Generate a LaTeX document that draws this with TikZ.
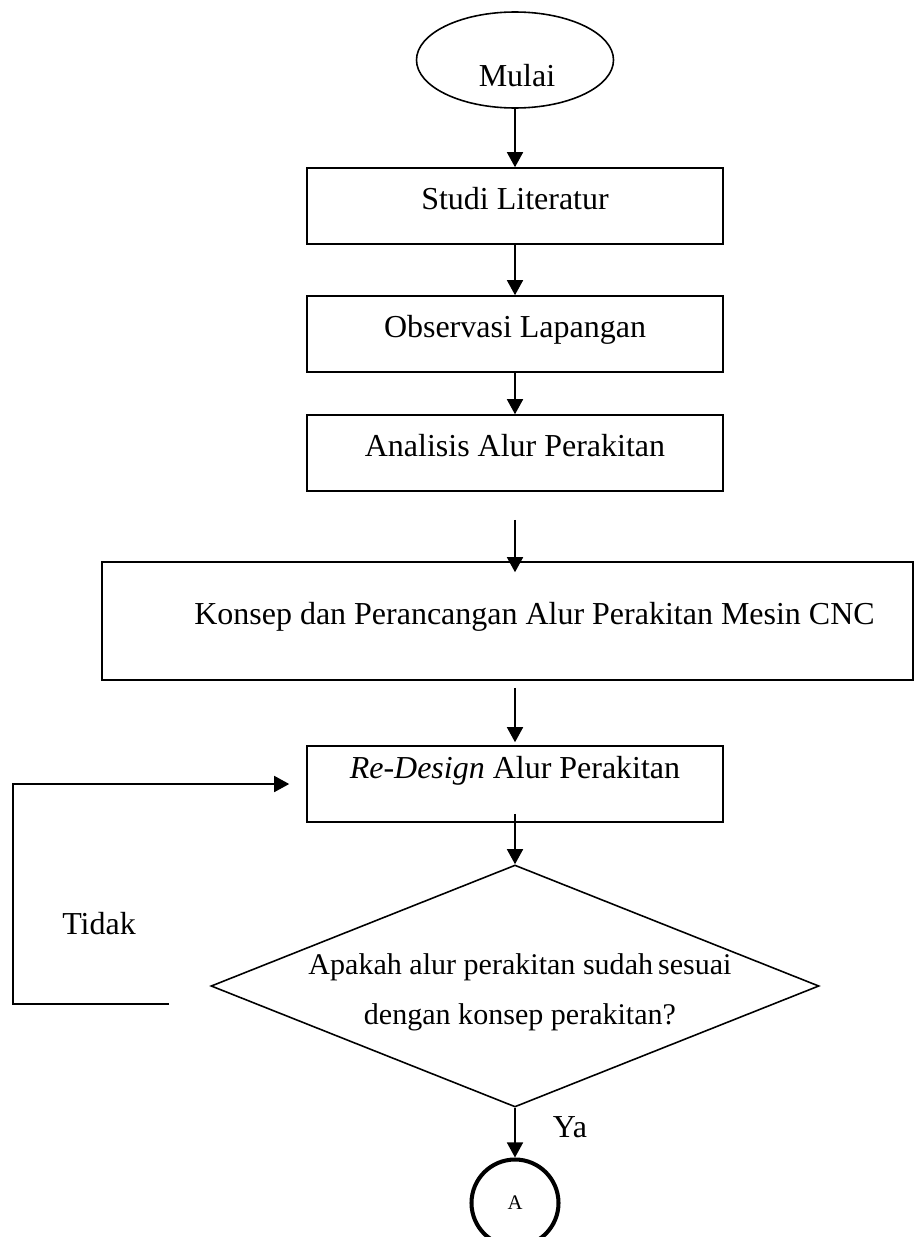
\documentclass[tikz,border=0pt]{standalone}
\usepackage{fontspec}
\setmainfont{Liberation Serif}
\usetikzlibrary{arrows.meta,positioning,calc,shapes.geometric}
\begin{document}
\begin{tikzpicture}[>={Triangle[length=0.30cm,width=0.32cm]},line width=0.9pt,
 font=\fontsize{18.2}{22}\selectfont,x=1.000cm,y=1.000cm,
 proc/.style={draw,rectangle,minimum width=8.320cm,minimum height=1.520cm,inner sep=0pt,text height=0.45cm,text depth=0.30cm},
 term/.style={draw,ellipse,minimum width=3.940cm,minimum height=1.920cm,inner sep=0pt},
 dec/.style={draw,diamond,minimum width=12.160cm,minimum height=4.840cm,inner sep=0pt},
 conn/.style={draw,circle,line width=2.3pt,minimum size=1.740cm,inner sep=0pt,font=\fontsize{11.8}{14}\selectfont},
 lab/.style={inner sep=1pt}]
\useasboundingbox (0,0) rectangle (18.280,-24.740);
\node[term] (mulai) at (10.300,-1.200) {};
\node[lab] (mulaitxt) at (10.340,-1.520) {Mulai};
\node[proc] (studi) at (10.300,-4.120) {Studi Literatur};
\node[proc] (observasi) at (10.300,-6.680) {Observasi Lapangan};
\node[proc] (analisis) at (10.300,-9.060) {Analisis Alur Perakitan};
\node[proc,minimum width=16.220cm,minimum height=2.360cm] (konsep) at (10.150,-12.420) {\hspace*{1.08cm}Konsep dan Perancangan Alur Perakitan Mesin CNC};
\node[proc,text depth=0.67cm] (redesign) at (10.300,-15.680) {\textit{Re-Design} Alur Perakitan};
\node[dec] (cek) at (10.300,-19.720) {};
\node[lab,align=center,font=\fontsize{17.1}{28.5}\selectfont] (cektxt) at (10.400,-19.840) {Apakah alur perakitan sudah\,sesuai\\dengan konsep perakitan?};
\node[conn] (a) at (10.300,-24.060) {A};
\node[lab] (tidak) at (1.980,-18.470) {Tidak};
\node[lab] (ya) at (11.400,-22.540) {Ya};
\coordinate (tdk1) at (3.380,-20.080);
\coordinate (tdk2) at (0.260,-20.080);
\draw[->] (mulai) -- (studi);
\draw[->] (studi) -- (observasi);
\draw[->] (observasi) -- (analisis);
\draw[->,shorten <=0.56cm,shorten >=-0.22cm] (analisis.south) -- (analisis.south |- konsep.north);
\draw[->,shorten <=0.14cm,shorten >=0.06cm] (redesign.north |- konsep.south) -- (redesign.north);
\draw[->,shorten <=-0.18cm] (redesign) -- (cek);
\draw[->] (cek) -- (a);
\draw[->,shorten >=0.34cm] (tdk1) -- (tdk2) |- (redesign.west);
\end{tikzpicture}
\end{document}
